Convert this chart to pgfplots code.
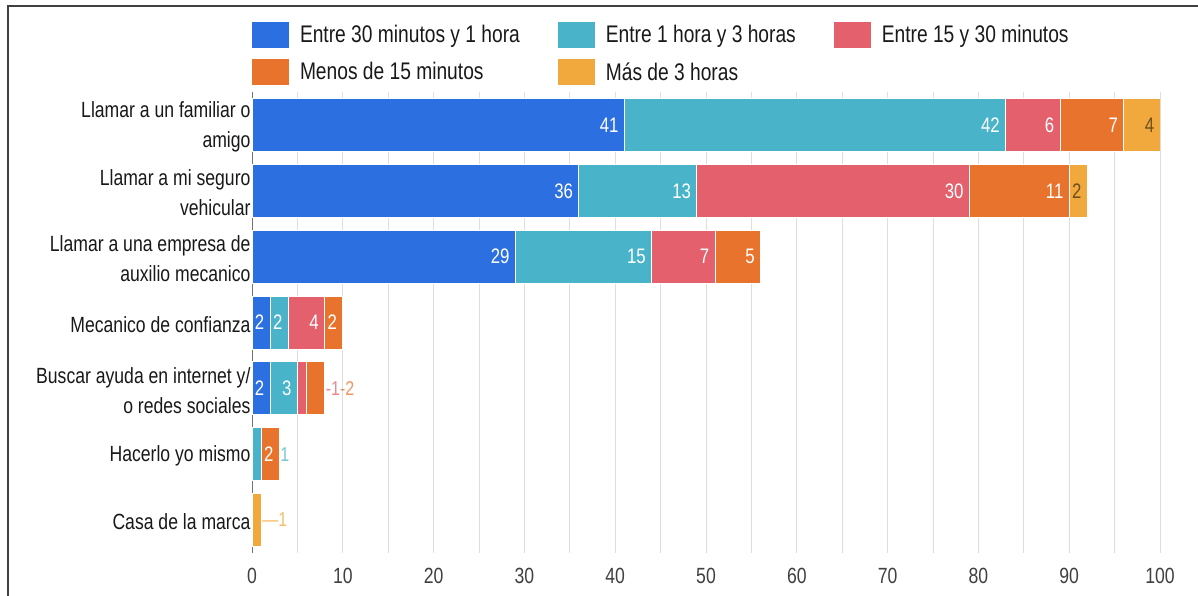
\documentclass[border=0pt]{standalone}
\usepackage{fontspec}
\setmainfont[FakeStretch=0.8]{Liberation Sans}
\usepackage{pgfplots}
\usepackage{pgfplotstable}
\pgfplotsset{compat=1.18}
\definecolor{cA}{RGB}{43,111,224}
\definecolor{cB}{RGB}{72,179,201}
\definecolor{cC}{RGB}{227,96,108}
\definecolor{cD}{RGB}{232,115,44}
\definecolor{cE}{RGB}{241,168,60}
\definecolor{lab}{RGB}{110,80,30}

\pgfplotstableread{
y a b c d e la lb lc ld le
0 41 42 6 7 4 41 42 6 7 4
1 36 13 30 11 2 36 13 30 11 2
2 29 15 7 5 0 29 15 7 5 {}
3 2 2 4 2 0 2 2 4 2 {}
4 2 3 1 2 0 2 3 {} {} {}
5 0 1 0 2 0 {} {} {} 2 {}
6 0 0 0 0 1 {} {} {} {} {}
}\data

\begin{document}
\begin{tikzpicture}
\useasboundingbox (0,0) rectangle (1198pt,-596pt);
\fill[white] (0,0) rectangle (1198pt,-596pt);
\draw[black!75, line width=2.5pt] (8pt,-596pt) -- (8pt,-6pt) -- (1198pt,-6pt);
\begin{axis}[
  at={(252pt,-553pt)}, anchor=south west, scale only axis,
  width=908pt, height=461pt,
  xbar stacked, bar width=53pt,
  xmin=0, xmax=100, ymin=-0.5, ymax=6.5, y dir=reverse,
  xtick={0,10,...,100}, minor xtick={5,15,...,95},
  xmajorgrids, xminorgrids,
  major grid style={black!13, line width=0.9pt},
  minor grid style={black!13, line width=0.9pt},
  axis line style={draw=none}, tick style={draw=none},
  ytick={0,...,6},
  yticklabels={{Llamar a un familiar o\\amigo},{Llamar a mi seguro\\vehicular},{Llamar a una empresa de\\auxilio mecanico},{Mecanico de confianza},{Buscar ayuda en internet y/\\o redes sociales},{Hacerlo yo mismo},{Casa de la marca}},
  yticklabel style={font=\fontsize{22}{30}\selectfont, text=black!90, align=right, xshift=2pt, yshift=-2pt},
  xticklabel style={font=\fontsize{22}{26}\selectfont, text=black!75, yshift=-12pt},
  /pgf/number format/assume math mode=true,
  point meta=explicit symbolic,
  nodes near coords={\pgfplotspointmeta},
  every node near coord/.append style={anchor=east, text=white, font=\fontsize{21}{24}\selectfont},
  legend style={at={(0,1.152)}, anchor=north west, draw=none, fill=none,
    inner sep=0pt, outer sep=0pt, font=\fontsize{24}{28}\selectfont, text=black!90,
    /tikz/every odd column/.append style={column sep=9pt},
    /tikz/every even column/.append style={column sep=36pt},
    row sep=11pt},
  legend columns=3, legend cell align=left,
  legend image code/.code={\fill[#1,draw=none] (0pt,-13pt) rectangle (37pt,13pt);},
]
\addplot[fill=cA, draw=white, line width=1pt,
  visualization depends on={\thisrow{a} \as \segw},
  nodes near coords style={xshift=\segw*4.54pt-2pt}] table[x=a, y=y, meta=la] {\data};
\addlegendentry{Entre 30 minutos y 1 hora}
\addplot[fill=cB, draw=white, line width=1pt,
  visualization depends on={\thisrow{b} \as \segw},
  nodes near coords style={xshift=\segw*4.54pt-2pt}] table[x=b, y=y, meta=lb] {\data};
\addlegendentry{Entre 1 hora y 3 horas}
\addplot[fill=cC, draw=white, line width=1pt,
  visualization depends on={\thisrow{c} \as \segw},
  nodes near coords style={xshift=\segw*4.54pt-2pt}] table[x=c, y=y, meta=lc] {\data};
\addlegendentry{Entre 15 y 30 minutos}
\addplot[fill=cD, draw=white, line width=1pt,
  visualization depends on={\thisrow{d} \as \segw},
  nodes near coords style={xshift=\segw*4.54pt-2pt}] table[x=d, y=y, meta=ld] {\data};
\addlegendentry{Menos de 15 minutos}
\addplot[fill=cE, draw=white, line width=1pt,
  visualization depends on={\thisrow{e} \as \segw},
  nodes near coords style={text=lab, xshift=\segw*4.54pt-2pt}] table[x=e, y=y, meta=le] {\data};
\addlegendentry{Más de 3 horas}
\draw[black!55, line width=1.3pt] (axis cs:0,-0.5) -- (axis cs:0,6.5);
\node[anchor=west, inner sep=1pt, font=\fontsize{20}{22}\selectfont, opacity=0.75] at (axis cs:8,4) {\textcolor{cC}{-1}\textcolor{cD}{-2}};
\node[anchor=west, inner sep=1pt, font=\fontsize{20}{22}\selectfont, opacity=0.75] at (axis cs:3,5) {\textcolor{cB}{1}};
\node[anchor=west, inner sep=1pt, font=\fontsize{20}{22}\selectfont, opacity=0.75] at (axis cs:1,6) {\textcolor{cE}{—1}};
\end{axis}
\end{tikzpicture}
\end{document}
